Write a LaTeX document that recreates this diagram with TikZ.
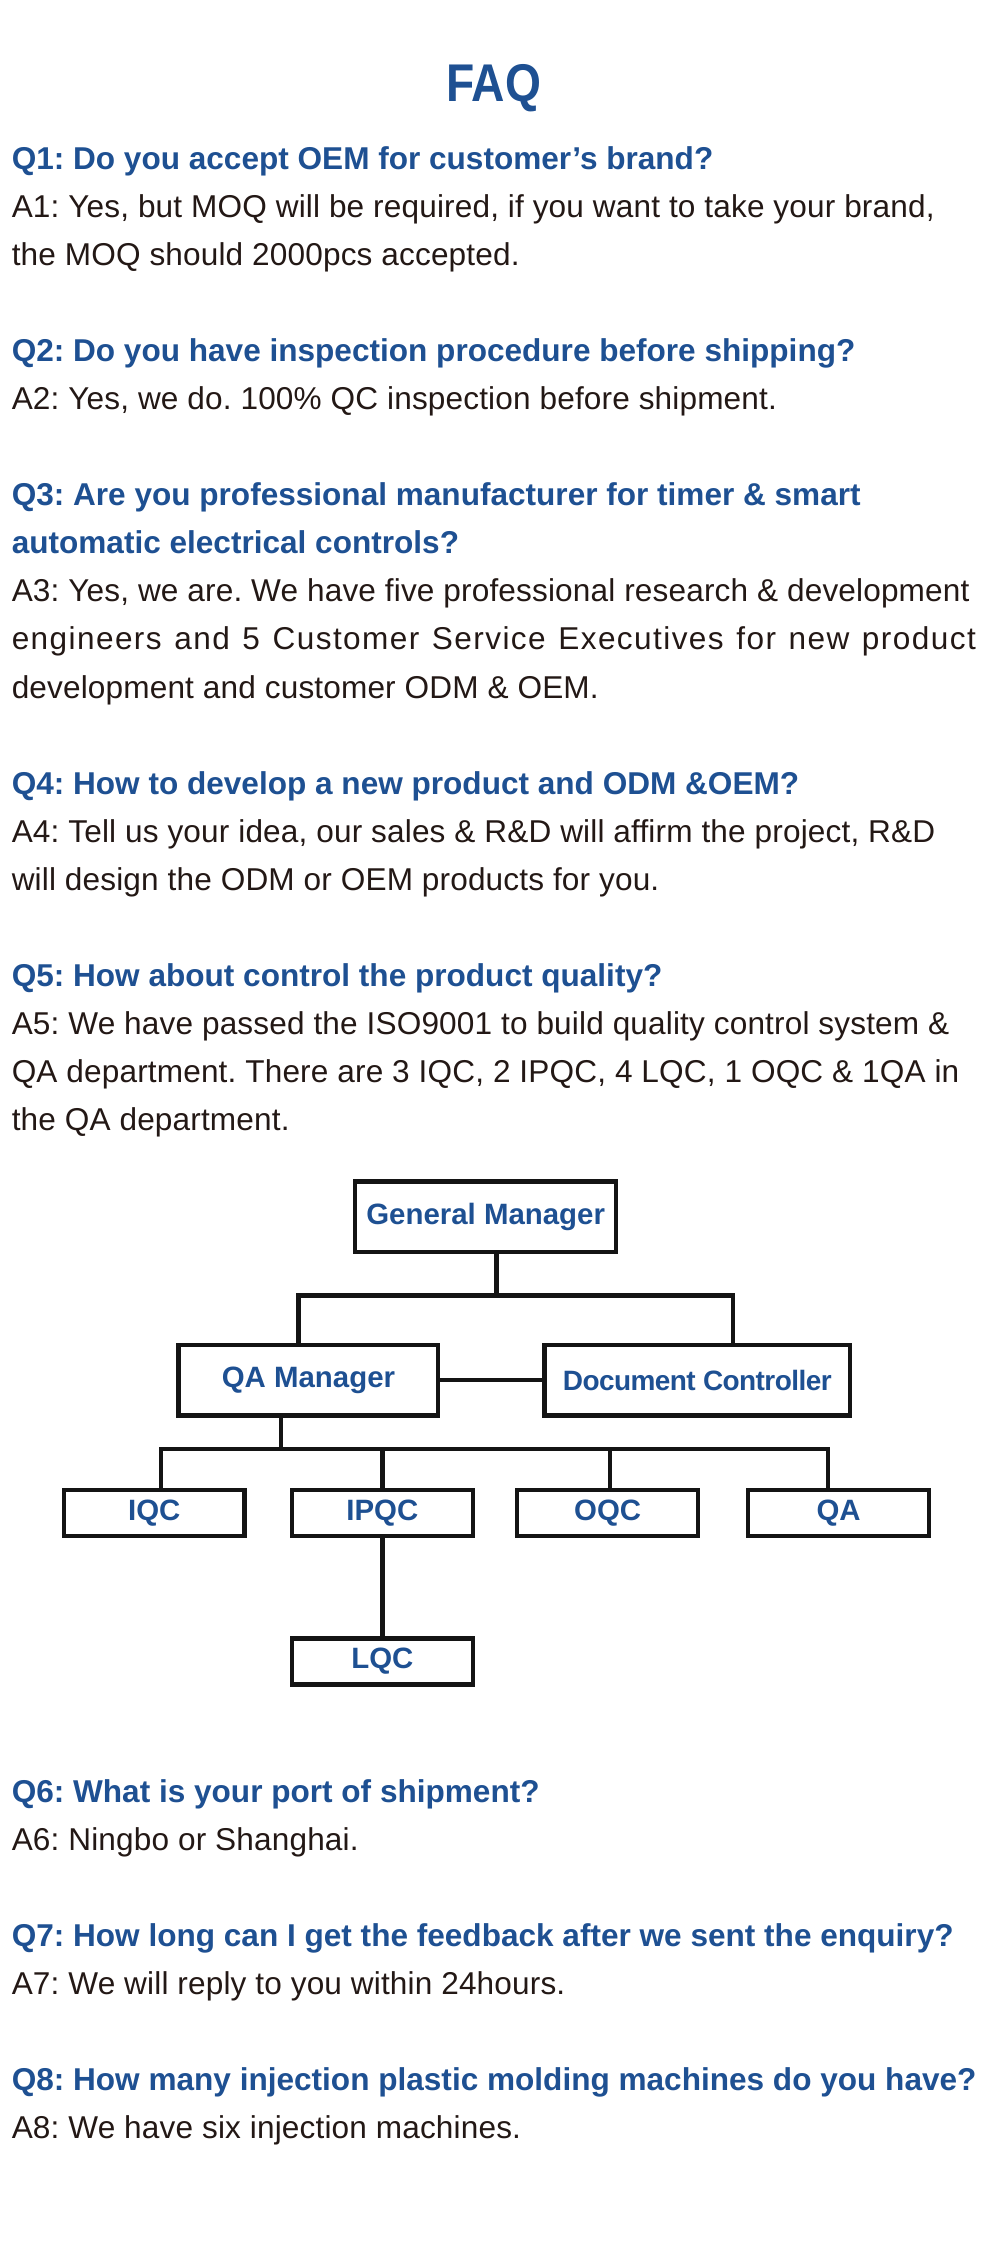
\documentclass[tikz,border=0pt]{standalone}
\usepackage{fontspec}
\setmainfont{Liberation Sans}
\newfontface\titleface[FakeStretch=0.87]{Liberation Sans Bold}
\usetikzlibrary{positioning}
\definecolor{faqblue}{RGB}{30,80,146}
\definecolor{inkblack}{RGB}{35,24,21}
\definecolor{linegray}{RGB}{20,20,20}
\frenchspacing

\begin{document}
\begin{tikzpicture}[
  x=1pt, y=-1pt,
  every node/.style={inner sep=0pt},
  qline/.style={anchor=base west, text=faqblue, font=\fontsize{22}{26}\selectfont\bfseries},
  aline/.style={anchor=base west, text=inkblack, font=\fontsize{22}{26}\selectfont\addfontfeature{LetterSpace=0.5}},
  box/.style={draw=linegray, line width=3pt, minimum width=126pt, minimum height=32pt,
    text=faqblue, font=\fontsize{20.5}{24}\selectfont\bfseries},
  link/.style={draw=linegray, line width=3pt}
]
\useasboundingbox (0,0) rectangle (690,1567.5);

% Titre
\node[anchor=base, text=faqblue, font=\titleface\fontsize{37}{40}\selectfont] (title) at (344,70.5) {FAQ};

% Questions 1 a 5
\node[qline] (q1)  at (8,118)   {Q1: Do you accept OEM for customer’s brand?};
\node[aline] (a1)  at (8,151.5) {A1: Yes, but MOQ will be required, if you want to take your brand,};
\node[aline] (a1b) at (8,185)   {the MOQ should 2000pcs accepted.};

\node[qline] (q2)  at (8,252)   {Q2: Do you have inspection procedure before shipping?};
\node[aline] (a2)  at (8,285.5) {A2: Yes, we do. 100\% QC inspection before shipment.};

\node[qline] (q3)  at (8,352.5) {Q3: Are you professional manufacturer for timer \& smart};
\node[qline] (q3b) at (8,386)   {automatic electrical controls?};
\node[aline] (a3)  at (8,419.5) {A3: Yes, we are. We have five professional research \& development};
\node[aline] (a3b) at (8,453)   {\makebox[672pt][s]{\addfontfeature{LetterSpace=4.5}engineers and 5 Customer Service Executives for new product}};
\node[aline] (a3c) at (8,486.5) {development and customer ODM \& OEM.};

\node[qline] (q4)  at (8,553.5) {Q4: How to develop a new product and ODM \&OEM?};
\node[aline] (a4)  at (8,587)   {A4: Tell us your idea, our sales \& R\&D will affirm the project, R\&D};
\node[aline] (a4b) at (8,620.5) {will design the ODM or OEM products for you.};

\node[qline] (q5)  at (8,687.5) {Q5: How about control the product quality?};
\node[aline] (a5)  at (8,721)   {A5: We have passed the ISO9001 to build quality control system \&};
\node[aline] (a5b) at (8,754.5) {QA department. There are 3 IQC, 2 IPQC, 4 LQC, 1 OQC \& 1QA in};
\node[aline] (a5c) at (8,788)   {the QA department.};

% Organigramme
\node[box, minimum width=182pt, minimum height=49pt] (gm)  at (338.5,848) {General Manager};
\node[box, minimum width=181pt, minimum height=49pt] (qam) at (215,962)   {QA Manager};
\node[box, minimum width=213pt, minimum height=49pt, font=\fontsize{19.5}{24}\selectfont\bfseries\addfontfeature{LetterSpace=-2}] (dc) at (486,962) {Document Controller};

\node[box] (iqc)  at (107.5,1054.5) {IQC};
\node[box] (ipqc) at (266.5,1054.5) {IPQC};
\node[box] (oqc)  at (423.5,1054.5) {OQC};
\node[box] (qa)   at (584.5,1054.5) {QA};
\node[box] (lqc)  at (266.5,1158)   {LQC};

\coordinate (bus1) at (346,903);
\coordinate (b1l)  at (208,903);
\coordinate (b1r)  at (511,903);
\coordinate (bus2) at (196,1010);
\coordinate (d1)   at (112,1010);
\coordinate (d2)   at (266.5,1010);
\coordinate (d3)   at (425,1010);
\coordinate (d4)   at (577,1010);

\draw[link] (gm.south -| bus1) -- (bus1);
\draw[link] (qam.north -| b1l) -- (b1l) -- (b1r) -- (dc.north -| b1r);
\draw[link] (qam) -- (dc);
\draw[link] (qam.south -| bus2) -- (bus2);
\draw[link] (iqc.north -| d1) -- (d1) -- (d4) -- (qa.north -| d4);
\draw[link] (d2) -- (ipqc.north -| d2);
\draw[link] (d3) -- (oqc.north -| d3);
\draw[link] (ipqc) -- (lqc);

% Questions 6 a 8
\node[qline] (q6) at (8,1256)   {Q6: What is your port of shipment?};
\node[aline] (a6) at (8,1289.5) {A6: Ningbo or Shanghai.};

\node[qline] (q7) at (8,1356.5) {Q7: How long can I get the feedback after we sent the enquiry?};
\node[aline] (a7) at (8,1390)   {A7: We will reply to you within 24hours.};

\node[qline] (q8) at (8,1457)   {Q8: How many injection plastic molding machines do you have?};
\node[aline] (a8) at (8,1490.5) {A8: We have six injection machines.};

\end{tikzpicture}
\end{document}
